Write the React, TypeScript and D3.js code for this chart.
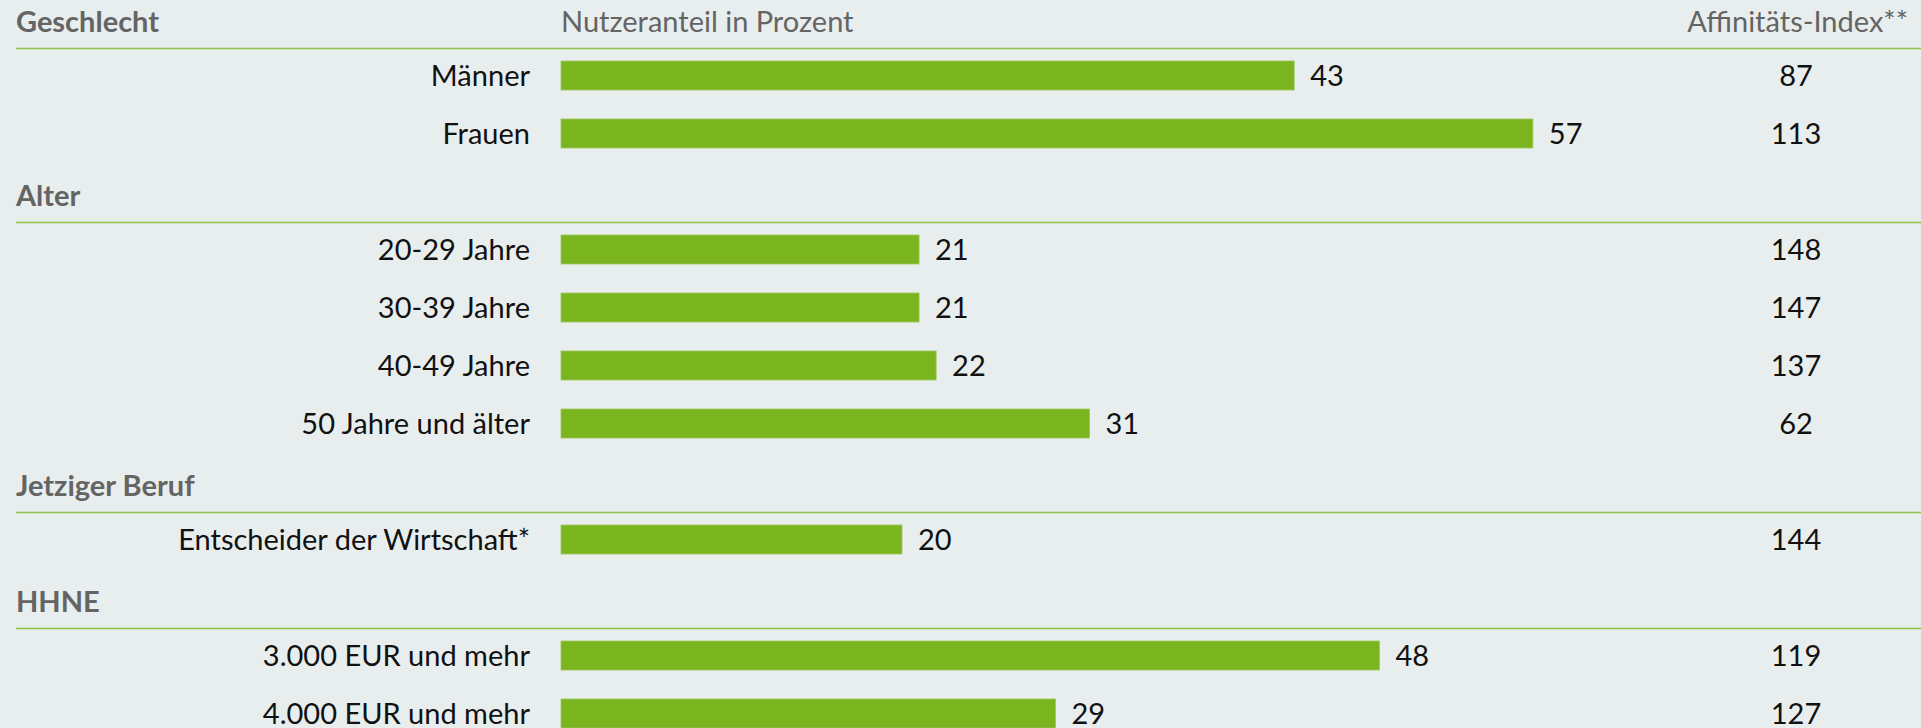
import React from "react";
import * as d3 from "d3";

const groups = ["Geschlecht", "Alter", "Jetziger Beruf", "HHNE"];
const categories = [
  "Männer",
  "Frauen",
  "20-29 Jahre",
  "30-39 Jahre",
  "40-49 Jahre",
  "50 Jahre und älter",
  "Entscheider der Wirtschaft*",
  "3.000 EUR und mehr",
  "4.000 EUR und mehr",
];
const categoryGroup = [
  "Geschlecht",
  "Geschlecht",
  "Alter",
  "Alter",
  "Alter",
  "Alter",
  "Jetziger Beruf",
  "HHNE",
  "HHNE",
];
const userShare = [43, 57, 21, 21, 22, 31, 20, 48, 29];
const affinityIndex = [87, 113, 148, 147, 137, 62, 144, 119, 127];
const shareTitle = "Nutzeranteil in Prozent";
const indexTitle = "Affinitäts-Index**";

const W = 1921;
const H = 728;
const FONT = "Lato, 'Open Sans', sans-serif";
const BG = "#e8eeee";
const BAR = "#7ab41e";
const LINE = "#8dc447";
const HEAD = "#646464";

type Row = { id: string; kind: "header" | "cat"; label: string; idx: number };

export default function App() {
  const rows: Row[] = [];
  groups.forEach((g) => {
    rows.push({ id: "h-" + g, kind: "header", label: g, idx: -1 });
    categories.forEach((c, i) => {
      if (categoryGroup[i] === g) rows.push({ id: "c-" + c, kind: "cat", label: c, idx: i });
    });
  });

  const y = d3
    .scalePoint<string>()
    .domain(rows.map((r) => r.id))
    .range([17.5, 17.5 + 58 * (rows.length - 1)]);
  const x = d3.scaleLinear().domain([0, 60]).range([561, 561 + 60 * 17.05]);
  const barH = 29;
  const labelRight = 530;
  const indexX = 1796;

  return (
    <svg
      width={W}
      height={H}
      style={{ position: "absolute", left: 0, top: 0, display: "block" }}
      fontFamily={FONT}
    >
      <rect x={0} y={0} width={W} height={H} fill={BG} />
      {rows.map((r) => {
        const cy = y(r.id) as number;
        if (r.kind === "header") {
          return (
            <g key={r.id}>
              <text x={16} y={cy + 14} fontSize={29} fontWeight={700} fill={HEAD}>
                {r.label}
              </text>
              <line x1={16} x2={W} y1={cy + 31} y2={cy + 31} stroke={LINE} strokeWidth={1.6} />
            </g>
          );
        }
        const v = userShare[r.idx];
        return (
          <g key={r.id}>
            <text
              x={labelRight}
              y={cy}
              dy="0.36em"
              fontSize={29}
              textAnchor="end"
              fill="#111"
            >
              {r.label}
            </text>
            <rect
              x={x(0)}
              y={cy - barH / 2}
              width={x(v) - x(0)}
              height={barH}
              fill={BAR}
              stroke="#9cc75a"
              strokeWidth={0.8}
            />
            <text x={x(v) + 16} y={cy} dy="0.36em" fontSize={29} fill="#111">
              {v}
            </text>
            <text x={indexX} y={cy} dy="0.36em" fontSize={29} textAnchor="middle" fill="#111">
              {affinityIndex[r.idx]}
            </text>
          </g>
        );
      })}
      <text x={x(0)} y={(y(rows[0].id) as number) + 14} fontSize={29} fill={HEAD}>
        {shareTitle}
      </text>
      <text
        x={1908}
        y={(y(rows[0].id) as number) + 14}
        fontSize={29}
        textAnchor="end"
        fill={HEAD}
      >
        {indexTitle}
      </text>
    </svg>
  );
}
